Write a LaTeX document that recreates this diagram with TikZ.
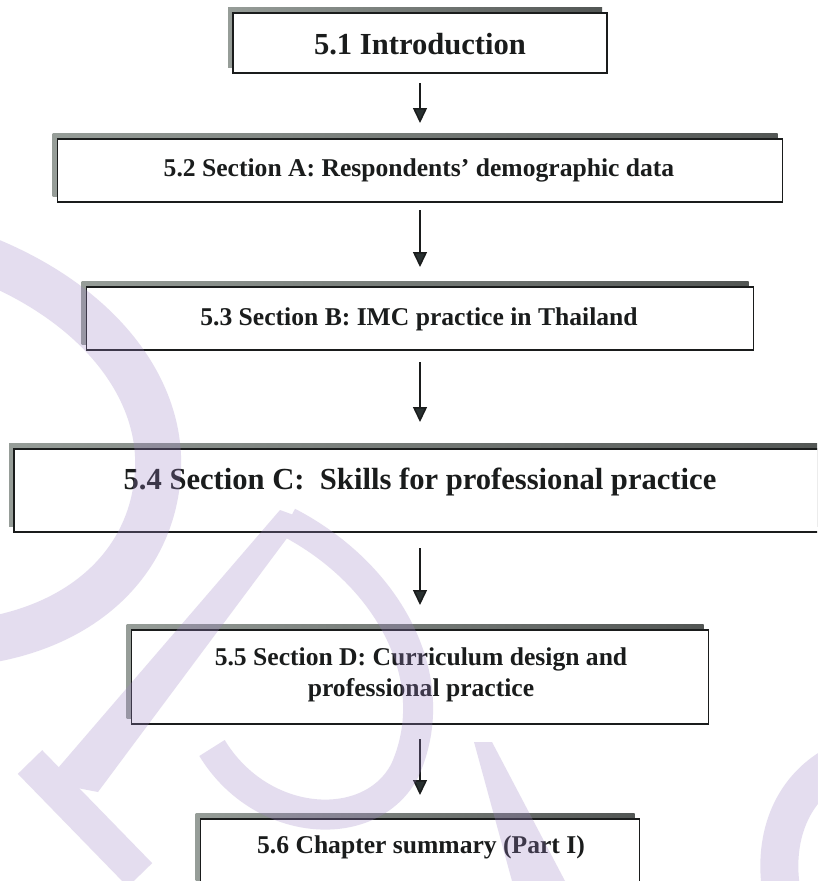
\documentclass[tikz,border=0pt]{standalone}
\usepackage{fontspec}
\setmainfont{Liberation Serif}
\usetikzlibrary{shadows,arrows.meta}

\definecolor{ink}{RGB}{26,28,28}
\definecolor{headink}{RGB}{40,48,48}
\definecolor{shL}{RGB}{150,157,152}
\definecolor{shR}{RGB}{82,86,84}
\definecolor{wm}{RGB}{158,132,198}

\tikzset{
  stage/.style={draw=ink, line width=1.7pt, fill=white, inner sep=0pt, outer sep=0pt,
    general shadow={shadow xshift=-5pt, shadow yshift=6pt, left color=shL, right color=shR}},
  bigtxt/.style={font=\bfseries\fontsize{30.6}{36}\selectfont, text=ink, inner sep=0pt, anchor=base},
  smalltxt/.style={font=\bfseries\fontsize{25.6}{31}\selectfont, text=ink, inner sep=0pt, anchor=base},
  flow/.style={draw=ink, line width=1.5pt, -{Triangle[length=15pt,width=14pt,fill=headink]}},
}

\begin{document}
\begin{tikzpicture}[x=1pt, y=-1pt]
  \useasboundingbox (0,0) rectangle (817,881);
  \fill[white] (0,0) rectangle (817,881);
  \clip (0,0) rectangle (817,881);

  % section boxes
  \node[stage, minimum width=374, minimum height=60] (b1) at (420,43) {};
  \node[stage, minimum width=725, minimum height=63] (b2) at (420,170.5) {};
  \node[stage, minimum width=667, minimum height=63] (b3) at (420,318.5) {};
  \node[stage, minimum width=812, minimum height=83] (b4) at (420,490.5) {};
  \node[stage, minimum width=577, minimum height=94] (b5) at (420,677) {};
  \node[stage, minimum width=439, minimum height=76] (b6) at (420,857) {};

  % titles
  \node[bigtxt]   (t1)  at (420,54)    {5.1 Introduction};
  \node[smalltxt] (t2)  at (419,176.5) {5.2 Section A: Respondents’ demographic data};
  \node[smalltxt] (t3)  at (419,325.5) {5.3 Section B: IMC practice in Thailand};
  \node[bigtxt]   (t4)  at (420,489)   {5.4 Section C:\ \ Skills for professional practice};
  \node[smalltxt] (t5a) at (421,665.5) {5.5 Section D: Curriculum design and};
  \node[smalltxt] (t5b) at (421,696.5) {professional practice};
  \node[smalltxt] (t6)  at (421,853.5) {5.6 Chapter summary (Part I)};

  % flow arrows
  \draw[flow] ([yshift=-10pt]b1.south) -- ([yshift=16pt]b2.north);
  \draw[flow] ([yshift=-8pt]b2.south)  -- ([yshift=20pt]b3.north);
  \draw[flow] ([yshift=-12pt]b3.south) -- ([yshift=27pt]b4.north);
  \draw[flow] ([yshift=-16pt]b4.south) -- ([yshift=25pt]b5.north);
  \draw[flow] ([yshift=-15pt]b5.south) -- ([yshift=24pt]b6.north);

  % lavender watermark strokes
  \begin{scope}[transparency group, opacity=0.27]
    \draw[wm, line width=46pt, line cap=butt]
      (-25,255) .. controls (95,300) and (162,385) .. (158,470)
      .. controls (154,560) and (85,628) .. (-25,642);
    \fill[wm] (280,510) -- (302,518) -- (98,792) -- (46,782) -- cycle;
    \draw[wm, line width=34pt, line cap=butt] (30,762) -- (140,875);
    \draw[wm, line width=30pt, line cap=butt]
      (288,522) .. controls (390,575) and (445,680) .. (405,770)
      .. controls (372,835) and (262,830) .. (212,748);
    \fill[wm] (474,742) -- (492,742) -- (565,881) -- (512,881) -- cycle;
    \draw[wm, line width=38pt, line cap=butt]
      (835,765) .. controls (790,790) and (772,840) .. (782,895);
  \end{scope}
\end{tikzpicture}
\end{document}
